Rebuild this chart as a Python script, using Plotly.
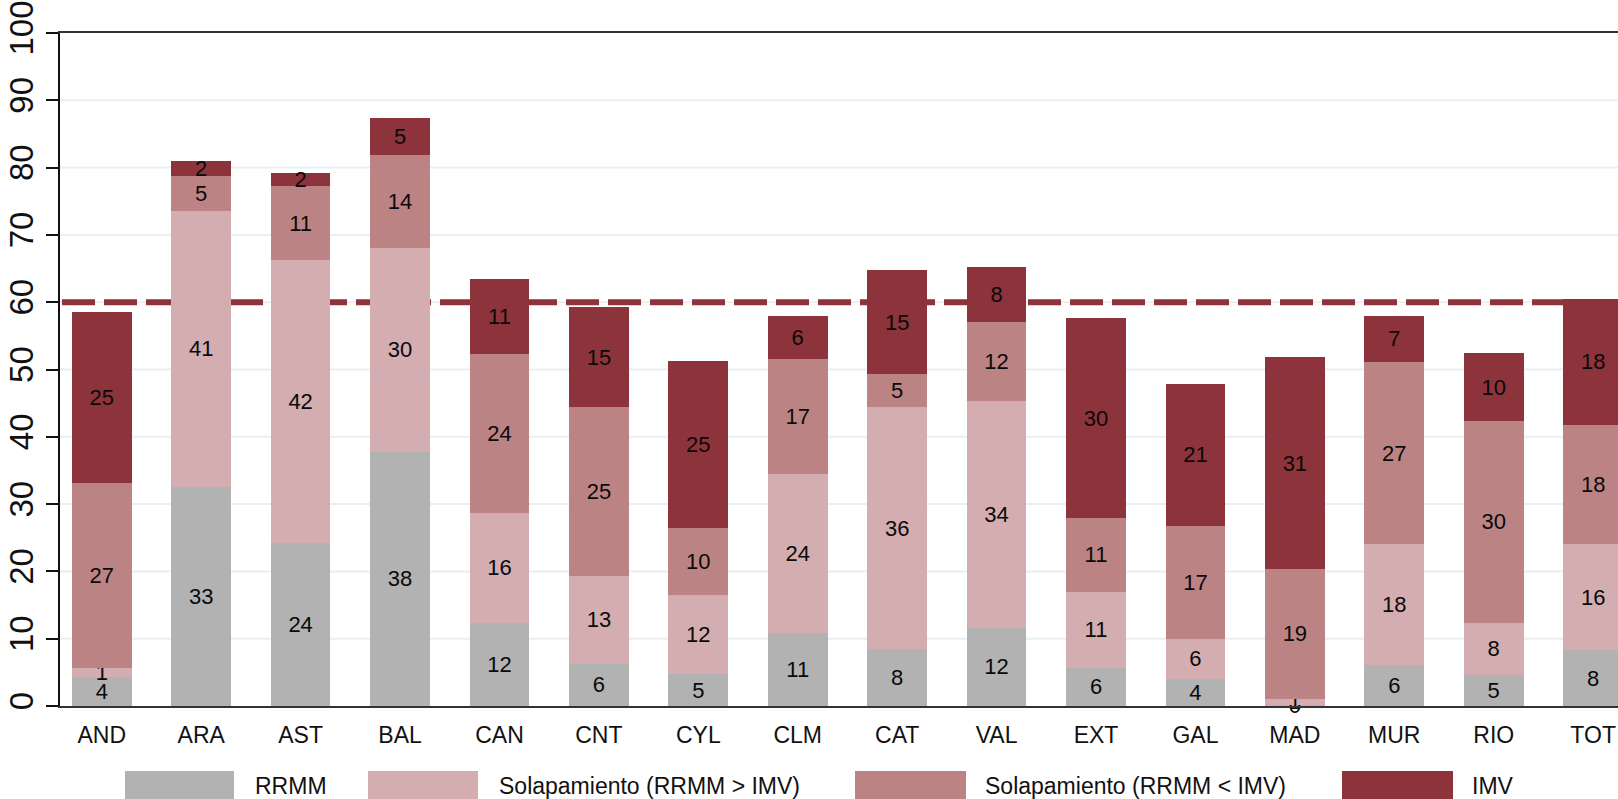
import plotly.graph_objects as go

# ---------------- data ----------------
categories = ["AND", "ARA", "AST", "BAL", "CAN", "CNT", "CYL", "CLM",
              "CAT", "VAL", "EXT", "GAL", "MAD", "MUR", "RIO", "TOT"]

series_names = ["RRMM", "Solapamiento (RRMM > IMV)",
                "Solapamiento (RRMM < IMV)", "IMV"]

rrmm_values = [4.35, 32.6, 24.2, 37.8, 12.4, 6.3, 4.7, 10.9,
               8.4, 11.6, 5.7, 4.0, 0.2, 6.1, 4.6, 8.3]
solap_gt_values = [1.25, 40.9, 42.0, 30.2, 16.3, 13.0, 11.8, 23.6,
                   36.0, 33.7, 11.3, 6.0, 0.9, 17.9, 7.8, 15.7]
solap_lt_values = [27.5, 5.2, 11.0, 13.9, 23.6, 25.1, 10.0, 17.0,
                   4.9, 11.8, 10.9, 16.8, 19.3, 27.1, 30.0, 17.8]
imv_values = [25.5, 2.3, 2.0, 5.4, 11.2, 14.9, 24.8, 6.4,
              15.5, 8.1, 29.7, 21.1, 31.4, 6.9, 10.0, 18.7]

rrmm_labels = [4, 33, 24, 38, 12, 6, 5, 11, 8, 12, 6, 4, 0, 6, 5, 8]
solap_gt_labels = [1, 41, 42, 30, 16, 13, 12, 24, 36, 34, 11, 6, 1, 18, 8, 16]
solap_lt_labels = [27, 5, 11, 14, 24, 25, 10, 17, 5, 12, 11, 17, 19, 27, 30, 18]
imv_labels = [25, 2, 2, 5, 11, 15, 25, 6, 15, 8, 30, 21, 31, 7, 10, 18]

reference_line = 60
y_ticks = [0, 10, 20, 30, 40, 50, 60, 70, 80, 90, 100]

colors = ["#B2B2B2", "#D3ADB0", "#BC8385", "#8D333B"]

# ---------------- layout constants ----------------
W, H = 1618, 799
ML, MR, MT, MB = 60, 0, 33, 93
FONT = "Liberation Sans, Arial, sans-serif"

values = [rrmm_values, solap_gt_values, solap_lt_values, imv_values]
labels = [rrmm_labels, solap_gt_labels, solap_lt_labels, imv_labels]

fig = go.Figure()
for name, vals, labs, col in zip(series_names, values, labels, colors):
    fig.add_trace(go.Bar(
        x=categories, y=vals, name=name,
        marker=dict(color=col, line=dict(width=0)),
        width=0.6,
        text=[str(v) for v in labs],
        textposition="inside", insidetextanchor="middle", textangle=0,
        textfont=dict(family=FONT, size=22, color="#0a0a0a"),
        cliponaxis=False,
        showlegend=False,
    ))

# gridlines (drawn as shapes below the data so the reference line sits above them)
for v in y_ticks[1:-1]:
    fig.add_shape(type="line", xref="paper", yref="y", x0=0, x1=1, y0=v, y1=v,
                  layer="below", line=dict(color="#E8F0F2", width=2))

# dashed reference line (below bars)
fig.add_shape(type="line", xref="paper", yref="y", x0=0.0013, x1=1,
              y0=reference_line, y1=reference_line, layer="below",
              line=dict(color=colors[3], width=6, dash="33px,9px"))

# custom legend
pw = W - ML - MR
ph = H - MT - MB

def px_x(p):
    return (p - ML) / pw

def px_y(p):
    return (H - MB - p) / ph

legend_boxes = [(125, 234, 253), (368, 478, 497), (855, 966, 983), (1342, 1453, 1470)]
for (bx0, bx1, tx), name, col in zip(legend_boxes, series_names, colors):
    fig.add_shape(type="rect", xref="paper", yref="paper",
                  x0=px_x(bx0), x1=px_x(bx1), y0=px_y(771), y1=px_y(805),
                  fillcolor=col, line=dict(width=0), layer="above")
    fig.add_annotation(xref="paper", yref="paper", x=px_x(tx), y=px_y(786),
                       text=name, showarrow=False, xanchor="left", yanchor="middle",
                       font=dict(family=FONT, size=23, color="#111111"))

fig.update_layout(
    width=W, height=H,
    margin=dict(l=ML, r=MR, t=MT, b=MB, pad=0),
    barmode="stack",
    plot_bgcolor="white", paper_bgcolor="white",
    font=dict(family=FONT, color="#111111"),
    uniformtext=dict(minsize=22, mode="show"),
    showlegend=False,
)
fig.update_xaxes(
    range=[-0.42, 15.25],
    showline=True, linecolor="#333333", linewidth=2, mirror=True,
    ticks="", showgrid=False,
    tickfont=dict(family=FONT, size=23, color="#111111"),
    ticklabelstandoff=7,
)
fig.update_yaxes(
    range=[0, 100], tickvals=y_ticks,
    showline=True, linecolor="#111111", linewidth=2,
    ticks="outside", ticklen=12, tickwidth=2, tickcolor="#111111",
    tickangle=-90,
    tickfont=dict(family=FONT, size=33, color="#111111"),
    showgrid=False,
    zeroline=False,
    ticklabelstandoff=0,
)

fig.write_html("out.html", config={"displayModeBar": False},
               post_script="document.body.style.margin='0';")
